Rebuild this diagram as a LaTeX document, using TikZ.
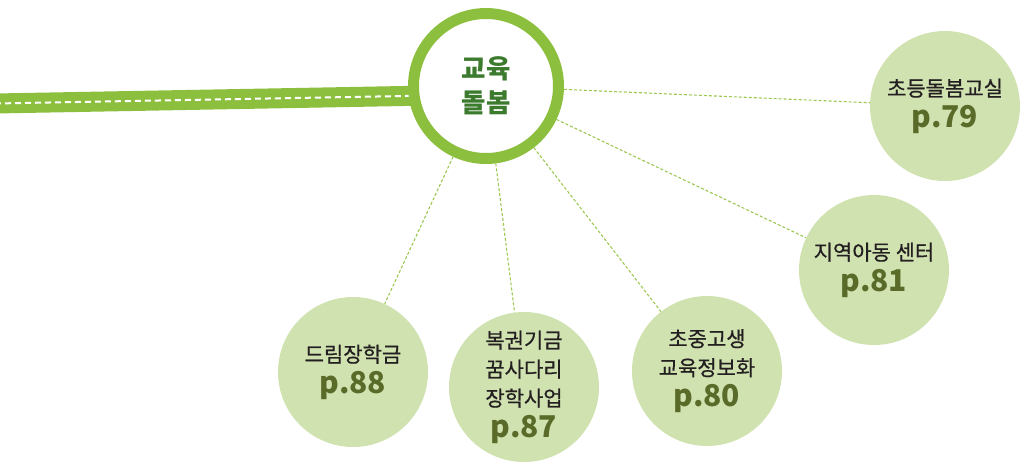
\documentclass[tikz,border=0pt]{standalone}
\usepackage{fontspec}
\newfontfamily\kr{Noto Sans CJK KR}
\newfontfamily\krm{Noto Sans CJK KR}[FakeBold=0.6]
\usetikzlibrary{backgrounds}
\definecolor{ring}{HTML}{8DBF3F}
\definecolor{soft}{HTML}{D1E2B1}
\definecolor{pagecol}{HTML}{5A6B29}
\definecolor{maincol}{HTML}{3C7A2E}
\definecolor{txt}{HTML}{231F20}
\definecolor{conn}{HTML}{9CC852}
\tikzset{
  hub/.style={circle, draw=ring, line width=11pt, fill=white, minimum size=145pt, inner sep=0pt,
    align=center, text=maincol, font=\kr\bfseries\fontsize{26.5}{34}\selectfont},
  topic/.style={circle, fill=soft, minimum size=150pt, inner sep=0pt, align=center,
    text=txt, font=\krm\fontsize{21}{29}\selectfont},
  link/.style={conn, line width=1.1pt, dash pattern=on 3pt off 2pt},
  road/.style={ring, line width=20pt},
  roadline/.style={white, line width=2pt, dash pattern=on 6pt off 4pt}
}
\newcommand{\pg}[1]{{\kr\color{pagecol}\bfseries\fontsize{30}{29}\selectfont #1}}
\begin{document}
\begin{tikzpicture}[x=1pt,y=-1pt]
\useasboundingbox (0,0) rectangle (1021,461);
\node[hub] (main) at (486,86) {교육\\돌봄};
\node[topic] (c1) at (945,106) {초등돌봄교실\\[2pt]\pg{p.79}};
\node[topic] (c2) at (874,270) {지역아동 센터\\[2pt]\pg{p.81}};
\node[topic] (c3) at (707,371) {초중고생\\교육정보화\\[2pt]\pg{p.80}};
\node[topic] (c4) at (524,387) {복권기금\\꿈사다리\\장학사업\\[2pt]\pg{p.87}};
\node[topic] (c5) at (353,372) {드림장학금\\[2pt]\pg{p.88}};
\coordinate (roadstart) at (-5,103.5);
\coordinate (roadend) at (486,94.5);
\begin{scope}[on background layer]
  \draw[road] (roadstart) -- (roadend);
  \draw[roadline] (roadstart) -- (roadend);
  \foreach \c in {c1,c2,c3,c4,c5} \draw[link] (main) -- (\c);
\end{scope}
\end{tikzpicture}
\end{document}
